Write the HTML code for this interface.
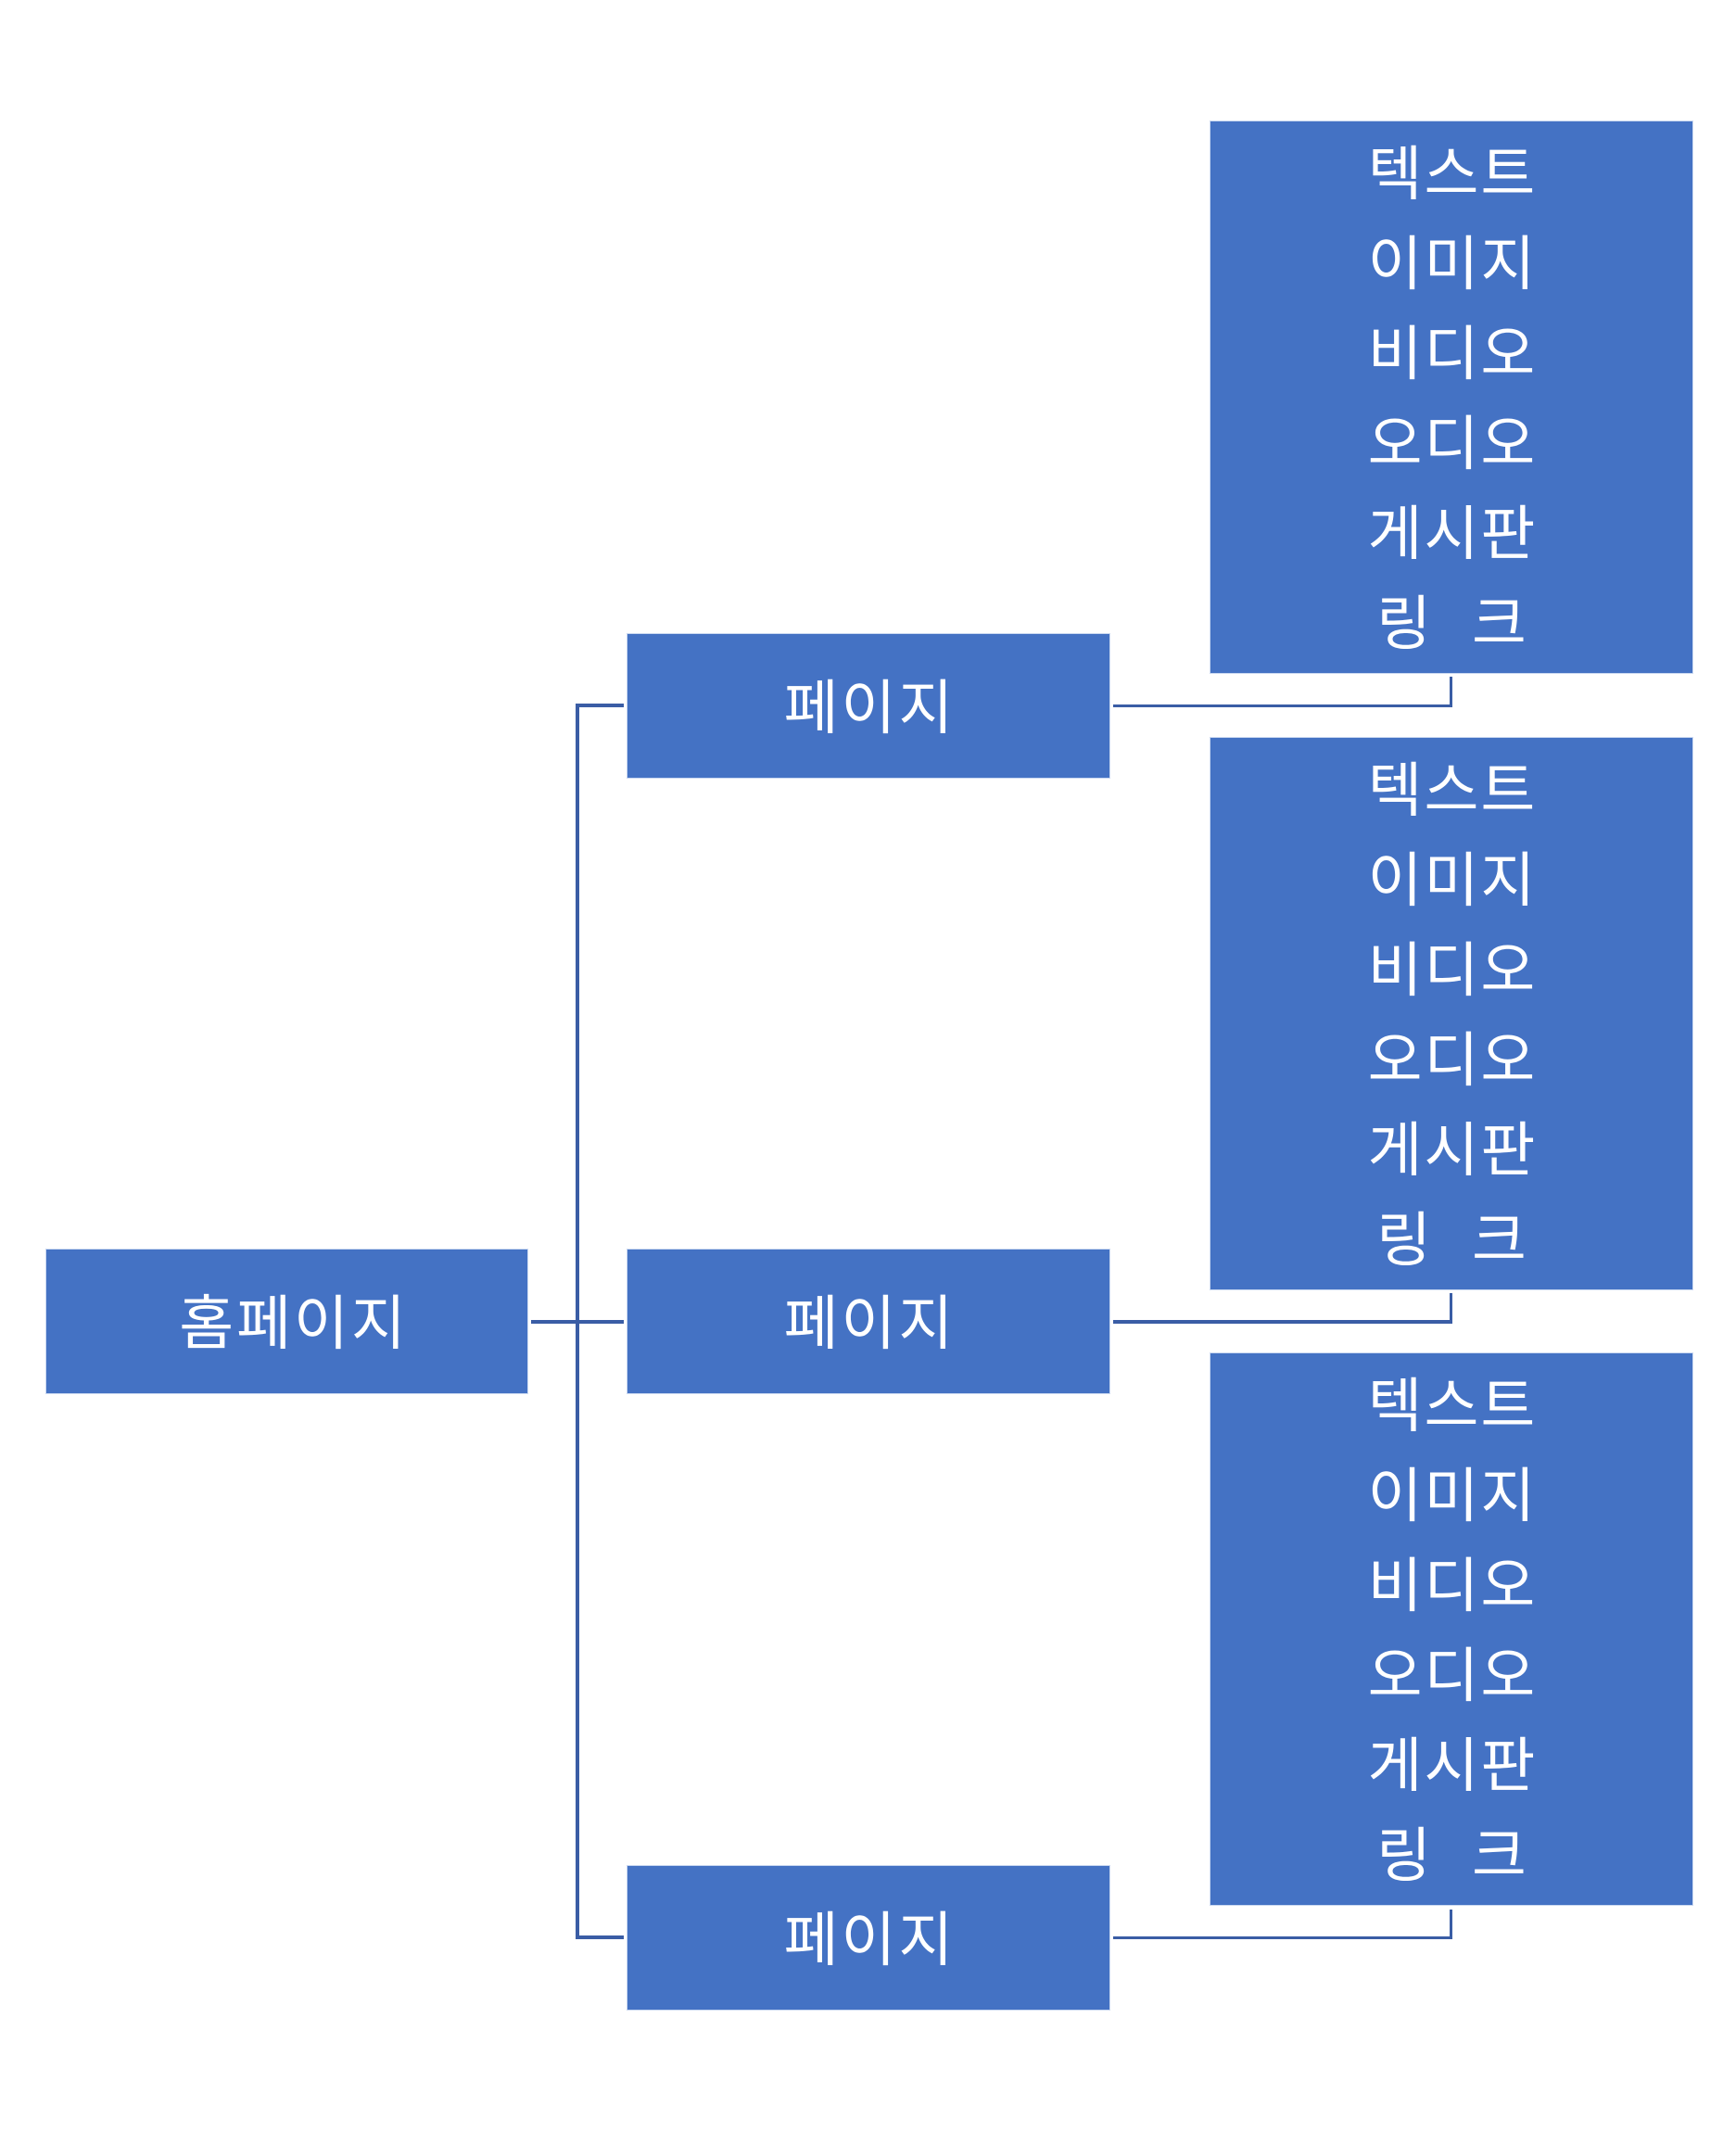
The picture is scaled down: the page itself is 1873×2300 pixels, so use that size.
<!DOCTYPE html>
<html>
<head>
<meta charset="utf-8">
<style>
  html, body { margin: 0; padding: 0; }
  body {
    width: 1873px; height: 2300px; position: relative; overflow: hidden;
    background: #ffffff;
    font-family: "Liberation Sans", "Noto Sans CJK KR", "NanumGothic", sans-serif;
  }
  .box {
    position: absolute; background: #4472C4; color: #ffffff;
    box-shadow: 0 0 0 1px rgba(160,185,230,0.55);
    display: flex; align-items: center; justify-content: center;
    font-size: 64px; line-height: 1;
  }
  .lbl { position: relative; top: 2px; white-space: pre; letter-spacing: 3px; padding-left: 3px; }
  .list {
    display: flex; flex-direction: column; align-items: center;
    font-size: 64px; line-height: 97px; position: relative; top: 2px;
  }
  .list div { white-space: pre; height: 97px; letter-spacing: 2px; padding-left: 2px; }
  .gap { display: inline-block; width: 42px; }
  .ln { position: absolute; background: #3A5DA5; }
</style>
</head>
<body>

<!-- connectors: left side -->
<div class="ln" style="left:573px; top:1424px; width:100px; height:4px;"></div>
<div class="ln" style="left:621px; top:759px; width:4px; height:1333px;"></div>
<div class="ln" style="left:621px; top:759px; width:52px; height:4px;"></div>
<div class="ln" style="left:621px; top:1424px; width:52px; height:4px;"></div>
<div class="ln" style="left:621px; top:2088px; width:52px; height:4px;"></div>

<!-- connectors: right side -->
<div class="ln" style="left:1201px; top:759.5px; width:366px; height:3.5px;"></div>
<div class="ln" style="left:1563.5px; top:730px; width:3.5px; height:33px;"></div>

<div class="ln" style="left:1201px; top:1424px; width:366px; height:3.5px;"></div>
<div class="ln" style="left:1563.5px; top:1395px; width:3.5px; height:32.5px;"></div>

<div class="ln" style="left:1201px; top:2088.5px; width:366px; height:3.5px;"></div>
<div class="ln" style="left:1563.5px; top:2060px; width:3.5px; height:32px;"></div>

<!-- home -->
<div class="box" style="left:50px; top:1348px; width:519px; height:155px;">
  <span class="lbl" style="left:6px;">홈페이지</span>
</div>

<!-- pages -->
<div class="box" style="left:677px; top:684px; width:520px; height:155px;">
  <span class="lbl">페이지</span>
</div>
<div class="box" style="left:677px; top:1348px; width:520px; height:155px;">
  <span class="lbl">페이지</span>
</div>
<div class="box" style="left:677px; top:2013px; width:520px; height:155px;">
  <span class="lbl">페이지</span>
</div>

<!-- right lists -->
<div class="box" style="left:1306px; top:131px; width:520px; height:595px;">
  <div class="list">
    <div>텍스트</div>
    <div>이미지</div>
    <div>비디오</div>
    <div>오디오</div>
    <div>게시판</div>
    <div>링<span class="gap"></span>크</div>
  </div>
</div>
<div class="box" style="left:1306px; top:796px; width:520px; height:595px;">
  <div class="list">
    <div>텍스트</div>
    <div>이미지</div>
    <div>비디오</div>
    <div>오디오</div>
    <div>게시판</div>
    <div>링<span class="gap"></span>크</div>
  </div>
</div>
<div class="box" style="left:1306px; top:1460px; width:520px; height:595px;">
  <div class="list">
    <div>텍스트</div>
    <div>이미지</div>
    <div>비디오</div>
    <div>오디오</div>
    <div>게시판</div>
    <div>링<span class="gap"></span>크</div>
  </div>
</div>

</body>
</html>
